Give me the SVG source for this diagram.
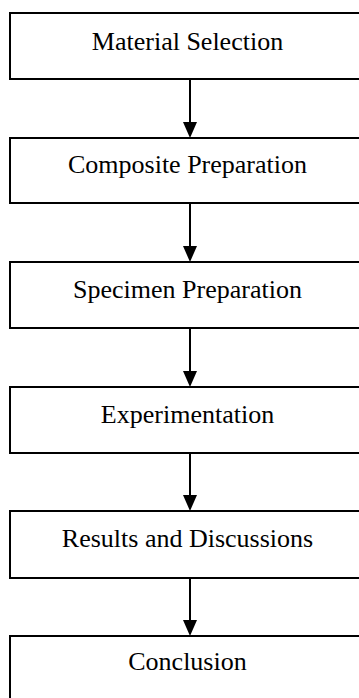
<svg xmlns="http://www.w3.org/2000/svg" width="359" height="698" viewBox="0 0 359 698">
<style>
.box{fill:#fff;stroke:#000;stroke-width:2}
.lbl{font-family:"Liberation Serif","Times New Roman",serif;font-size:26px;fill:#000;text-anchor:middle}
.ln{stroke:#000;stroke-width:2;fill:none}
.hd{fill:#000}
</style>
<rect width="359" height="698" fill="#fff"/>
<g id="n1"><rect class="box" x="10" y="13" width="370" height="66"/><text class="lbl" x="187.5" y="50">Material Selection</text></g>
<g id="n2"><rect class="box" x="10" y="138" width="370" height="65"/><text class="lbl" x="187.5" y="173">Composite Preparation</text></g>
<g id="n3"><rect class="box" x="10" y="262" width="370" height="66"/><text class="lbl" x="187.5" y="298">Specimen Preparation</text></g>
<g id="n4"><rect class="box" x="10" y="387" width="370" height="66"/><text class="lbl" x="187.5" y="423">Experimentation</text></g>
<g id="n5"><rect class="box" x="10" y="511" width="370" height="67"/><text class="lbl" x="187.5" y="547">Results and Discussions</text></g>
<g id="n6"><rect class="box" x="10" y="636" width="370" height="80"/><text class="lbl" x="187.5" y="670">Conclusion</text></g>
<g id="connectors">
<line class="ln" x1="190" y1="79" x2="190" y2="124"/><polygon class="hd" points="183,122 197,122 190,138"/>
<line class="ln" x1="190" y1="203" x2="190" y2="248"/><polygon class="hd" points="183,246 197,246 190,262"/>
<line class="ln" x1="190" y1="328" x2="190" y2="373"/><polygon class="hd" points="183,371 197,371 190,387"/>
<line class="ln" x1="190" y1="453" x2="190" y2="497"/><polygon class="hd" points="183,495 197,495 190,511"/>
<line class="ln" x1="190" y1="578" x2="190" y2="622"/><polygon class="hd" points="183,620 197,620 190,636"/>
</g>
</svg>
